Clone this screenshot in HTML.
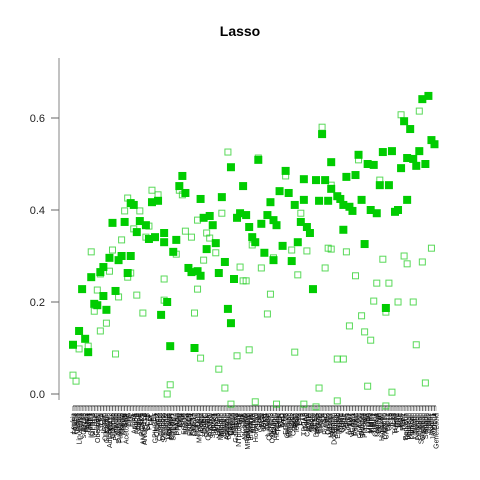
<!DOCTYPE html>
<html><head><meta charset="utf-8"><style>
html,body{margin:0;padding:0;background:#fff;}
svg{display:block;font-family:"Liberation Sans",sans-serif;}
</style></head><body>
<svg id="chart" width="480" height="480">
<text x="240" y="36" text-anchor="middle" font-size="14" font-weight="bold">Lasso</text>
<g id="yaxis"></g>
<g id="xaxis"></g>
<g id="open"></g>
<g id="filled"></g>
</svg>
<script>
const categoryNames = ("L.Ubiquitin Leptin LepR Angptl4 Adipoq Resistin Visfatin NAMPT Apelin Omentin Chemerin CHI3L1 IL6 IL8 IL10 TNFa CRP SAA1 PAI1 MCP1 Leukin FABP4 RBP4 Vaspin Lipocalin2 CD36 CD14 sCD163 NGAL Fetuin BMP4 IGF1 IGFBP2 IGFBP3 GH Ghrelin Obestatin PYY GLP1 GIP Insulin Cpeptide Glucagon Amylin Adiponect2 HbA1c Glucose Lactate Pyruvate Citrate Succinate Fumarate Malate Ketone BHB Acetoacet FFA TG HDL LDL ApoA1 ApoB ApoC3 ApoE Lpa PCSK9 ANGPTL3 ANGPTL8 CETP LCAT PLTP LPL HL EL GPIHBP1 Cholest Sitost Campest Lathost Desmost Squalene Lanost Zymost Mevalon HMGCR SREBP1 SREBP2 LXRa PPARa PPARg RXR FXR SHP FGF19 FGF21 Klotho KLB FGFR1 FGFR4 GDF15 GFRAL Irisin FNDC5 Myostatin Follist Activin Inhibin SPARC Decorin Osteocal OPG RANKL Sclerost DKK1 Wnt5a SFRP5 Nesfatin Meteorin Adropin Elabela Spexin Asprosin Betatrop Cathep Calprot HSP70 HSP60 Galectin3 sST2 NTproBNP TnT TnI CKMB Myoglob Copeptin MRproADM ProANP Endothel ADMA SDMA Homocys Uric Creat CystC BUN eGFR KIM1 NAG L.FABP Clusterin TFF3 Osteopon Albumin Ferritin Hepcidin Transf sTfR EPO VitD PTH FGF23 Calcium Phosph Magnes Zinc Copper Selen Iodine TSH FT4 FT3 rT3 TPOAb TgAb Cortisol ACTH Aldost Renin AngII ACE2 DHEAS Testost Estrad SHBG LH FSH Prolact AMH Oxytoc Vasopr Melaton Seroton Dopamine Norepi Epineph BDNF NGF GDNF VEGF PlGF sFlt1 Angpt2 Tie2 ICAM1 VCAM1 Eselect Pselect vWF FVIII Fibrinog Ddimer Thromb Plasmin tPA uPA MMP2 MMP9 TIMP1 TIMP2 Collag1 Collag3 PIIINP YKL40 Hyaluron Lamin CXCL10 CXCL12 CCL2 CCL5 IL1b IL18 IL33 TGFb1 PDGF EGF HGF KGF FGF2 TSP1 Periostin Tenascin Versican Biglycan Lumican Fibulin Elastin Nidogen Perlecan Agrin Syndecan Glypican Ephrin Semaph Netrin Slit2 Robo1 Notch1 Jagged1 DLL4 Gene.Lucid").split(" ").slice(-240);

// filled series: category index and value
const filledCat = [0,4,8,10,6,12,14,16,20,22,18,20,24,30,32,26,34,28,36,38,38,40,44,48,42,50,54,60,60,52,56,70,72,74,68,66,62,58,64,76,78,82,84,80,84,86,88,90,92,94,98,104,112,122,110,114,108,116,118,120,100,96,106,102,104,124,126,128,132,134,132,130,136,140,142,138,144,146,148,150,152,152,154,156,158,160,166,162,168,164,170,170,174,176,178,178,180,182,184,186,188,190,192,194,196,198,200,202,204,208,210,206,212,214,216,218,220,220,222,224,226,228,232,230,234,236,238];
const filledVal = [.107,.137,.120,.091,.228,.254,.196,.193,.213,.183,.265,.276,.296,.291,.300,.372,.374,.224,.263,.300,.415,.411,.376,.367,.352,.337,.341,.330,.350,.417,.420,.452,.474,.437,.335,.309,.200,.172,.104,.274,.265,.267,.257,.100,.424,.383,.315,.387,.367,.328,.428,.493,.452,.509,.393,.389,.383,.363,.341,.330,.287,.263,.250,.185,.154,.370,.307,.389,.378,.367,.291,.417,.441,.485,.437,.322,.289,.411,.330,.374,.422,.467,.363,.350,.228,.465,.465,.420,.420,.565,.504,.446,.430,.424,.411,.357,.472,.407,.398,.476,.520,.422,.326,.500,.400,.498,.393,.454,.526,.454,.528,.187,.396,.400,.491,.593,.513,.422,.576,.511,.496,.528,.500,.641,.648,.552,.543];
// open series
const openCat = [0,2,4,10,12,14,16,18,18,22,24,26,28,30,32,34,36,36,38,40,42,44,46,48,50,52,56,60,60,62,64,68,70,72,74,78,80,82,82,84,86,88,90,94,96,98,100,102,104,108,110,112,114,116,118,120,122,124,128,130,132,134,140,144,146,148,150,152,154,160,162,164,166,168,170,174,174,170,178,180,182,186,188,190,192,194,196,198,200,202,204,206,206,208,210,214,216,218,220,224,226,228,230,232,236,238];
const openVal = [.041,.028,.098,.104,.309,.180,.226,.261,.137,.154,.267,.313,.087,.211,.335,.398,.254,.426,.263,.359,.215,.398,.176,.341,.365,.443,.433,.204,.250,0,.020,.304,.443,.433,.354,.341,.176,.228,.378,.078,.291,.350,.339,.307,.054,.393,.013,.526,-.022,.083,.276,.246,.246,.096,.324,-.017,.513,.274,.174,.217,.296,-.022,.474,.313,.091,.259,.393,-.022,.311,-.028,.013,.580,.274,.317,.454,-.015,.076,.315,.076,.309,.148,.257,.509,.170,.135,.017,.117,.202,.241,.465,.293,-.026,.178,.241,.004,.200,.607,.300,.283,.200,.107,.615,.287,.024,.317];
const yTicks = [0, 0.2, 0.4, 0.6];
const yTickLabels = ["0.0","0.2","0.4","0.6"];

const NS = "http://www.w3.org/2000/svg";
const N = 240;
const xScale = i => 73 + i * (363 / (N - 1));
const yScale = v => 394 - v * 460;
function mk(tag, attrs, parent){const e=document.createElementNS(NS,tag);for(const k in attrs)e.setAttribute(k,attrs[k]);parent.appendChild(e);return e;}

const ya = document.getElementById('yaxis');
const yl = mk('line',{x1:59,x2:59,y1:58,y2:400,stroke:'#999','stroke-width':1.2},ya);


yTicks.forEach((t,k)=>{
  const tk = mk('line',{x1:51,x2:59,y1:yScale(t),y2:yScale(t),stroke:'#666'},ya);
  
  
  const tx = mk('text',{x:45,y:yScale(t)+4,'text-anchor':'end','font-size':11,fill:'#222'},ya);
  tx.textContent = yTickLabels[k];
  
  
});

const xa = document.getElementById('xaxis');
const xl = mk('line',{x1:73,x2:436,y1:406,y2:406,stroke:'#333'},xa);


categoryNames.forEach((c,i)=>{
  const x = xScale(i);
  const tk = mk('line',{x1:x,x2:x,y1:406,y2:411,stroke:i%2?'#999':'#333','stroke-width':0.7},xa);
  
  
  const tx = mk('text',{x:0,y:0,'text-anchor':'end','font-size':7,fill:'#111',transform:`translate(${x+2.5},413) rotate(-90)`},xa);
  tx.textContent = c;
  
  
});

const og = document.getElementById('open');
const nOpen = Math.min(openCat.length, openVal.length);
for (let i = 0; i < nOpen; i++) {
  const r = mk('rect',{x:xScale(openCat[i])-3,y:yScale(openVal[i])-3,width:6,height:6,fill:'none',stroke:'#22cc22','stroke-opacity':0.75,'stroke-width':1},og);
  
  
}
const fg = document.getElementById('filled');
const nFilled = Math.min(filledCat.length, filledVal.length);
for (let i = 0; i < nFilled; i++) {
  const r = mk('rect',{x:xScale(filledCat[i])-4,y:yScale(filledVal[i])-4,width:8,height:8,fill:'#00cc00'},fg);
  
  
}
</script>
</body></html>
